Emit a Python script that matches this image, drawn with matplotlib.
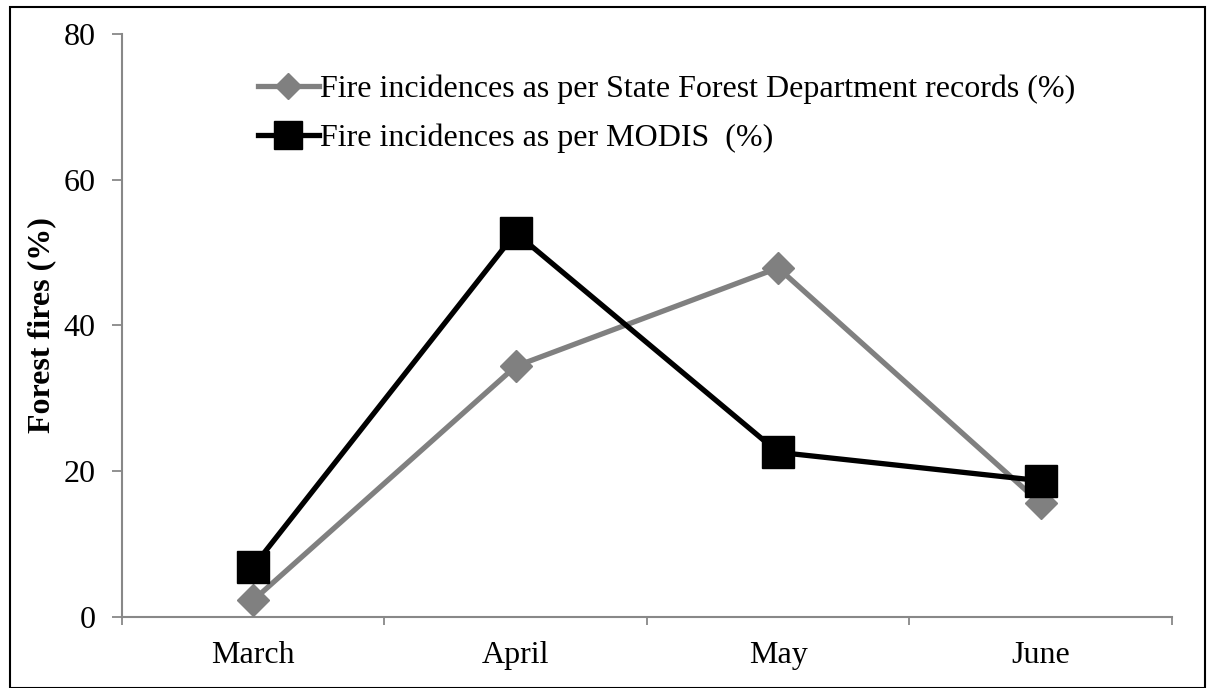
import matplotlib
matplotlib.use('Agg')
import matplotlib.pyplot as plt
from matplotlib.patches import Rectangle
import numpy as np

plt.rcParams['font.family'] = ['Liberation Serif', 'DejaVu Serif']

# monthly fire incidence shares
months = ['March', 'April', 'May', 'June']
state_dept = [2.3, 34.4, 47.9, 15.6]
modis = [6.9, 52.7, 22.6, 18.7]

label_state = 'Fire incidences as per State Forest Department records (%)'
label_modis = 'Fire incidences as per MODIS  (%)'

fig = plt.figure(figsize=(12.08, 6.88), dpi=100)
ax = fig.add_axes([0.101, 0.1032, 0.869, 0.8474])

x = np.arange(len(months))
ax.plot(x, state_dept, color='#808080', lw=3.8, marker='D', ms=16,
        mec='#808080', mfc='#808080', label=label_state, zorder=3)
ax.plot(x, modis, color='black', lw=3.8, marker='s', ms=23,
        mec='black', mfc='black', label=label_modis, zorder=4)

ax.set_xlim(-0.5, len(months) - 0.5)
ax.set_ylim(0, 80)
ax.set_yticks([0, 20, 40, 60, 80])

# category labels centred, ticks on the category boundaries
ax.set_xticks(x)
ax.set_xticklabels(months, fontsize=23)
ax.set_xticks(np.arange(-0.5, len(months)), minor=True)
ax.tick_params(axis='x', which='major', length=0, pad=17)
ax.tick_params(axis='x', which='minor', length=6, width=1.3, color='#888888', direction='out')
ax.tick_params(axis='y', length=7, width=1.3, color='#888888', labelsize=23, pad=12)

for side in ['top', 'right']:
    ax.spines[side].set_visible(False)
for side in ['left', 'bottom']:
    ax.spines[side].set_color('#888888')
    ax.spines[side].set_linewidth(1.5)

ax.set_ylabel('Forest fires (%)', fontsize=23, fontweight='bold', labelpad=5)

ax.legend(loc='upper left', bbox_to_anchor=(0.1295, 0.9297), frameon=False,
          fontsize=23, handlelength=1.9, handletextpad=0.05,
          labelspacing=0.6, markerscale=0.85, borderpad=0, borderaxespad=0)

# outer frame
fig.patches.append(Rectangle((10 / 1208, 0.0), 1195 / 1208, 1 - 7 / 688,
                             transform=fig.transFigure, fill=False,
                             edgecolor='black', lw=1.5))

fig.savefig('out.png', dpi=100)
